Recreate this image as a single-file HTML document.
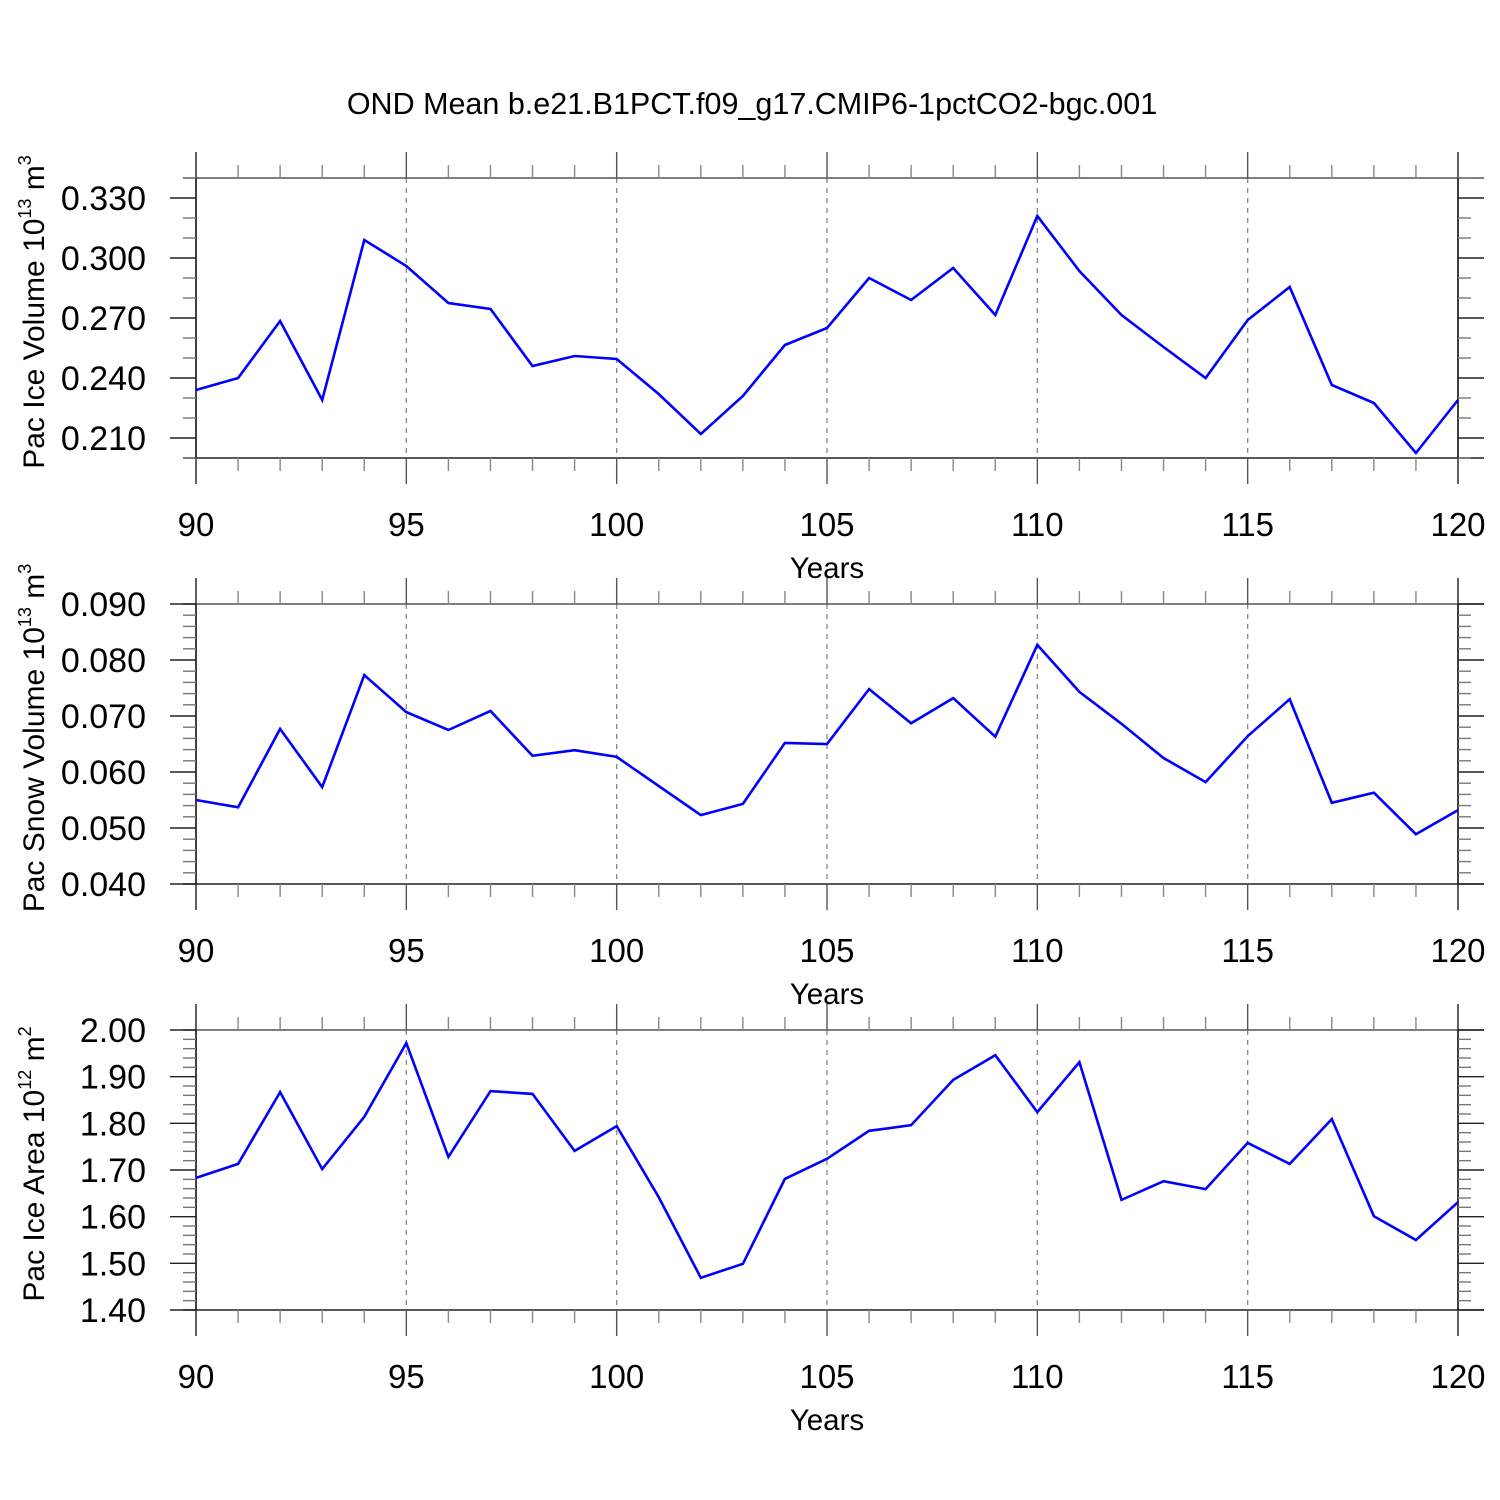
<!DOCTYPE html>
<html><head><meta charset="utf-8"><style>
body{margin:0;background:#fff}
svg{display:block;font-family:"Liberation Sans",sans-serif}
</style></head><body>
<svg id="chart" width="1500" height="1500" xmlns="http://www.w3.org/2000/svg">
<text x="752" y="114" font-size="30.5" text-anchor="middle">OND Mean b.e21.B1PCT.f09_g17.CMIP6-1pctCO2-bgc.001</text>
</svg>
<script>
const years=[90,91,92,93,94,95,96,97,98,99,100,101,102,103,104,105,106,107,108,109,110,111,112,113,114,115,116,117,118,119,120];
const iceVolume=[0.234,0.240,0.2685,0.229,0.309,0.296,0.2775,0.2745,0.246,0.251,0.2495,0.232,0.212,0.231,0.2565,0.265,0.290,0.279,0.295,0.2715,0.321,0.2935,0.2715,0.2555,0.240,0.269,0.2855,0.2365,0.2275,0.2025,0.229];
const snowVolume=[0.055,0.0537,0.0677,0.0573,0.0773,0.0707,0.0675,0.0709,0.0629,0.0639,0.0627,0.0575,0.0523,0.0543,0.0652,0.065,0.0748,0.0687,0.0732,0.0663,0.0827,0.0743,0.0686,0.0625,0.0582,0.0664,0.073,0.0545,0.0563,0.0489,0.0532];
const iceArea=[1.683,1.713,1.867,1.702,1.814,1.972,1.728,1.869,1.863,1.741,1.794,1.642,1.469,1.499,1.681,1.724,1.784,1.796,1.893,1.946,1.824,1.931,1.636,1.676,1.659,1.758,1.713,1.809,1.601,1.550,1.631];
const xTicks=[90,95,100,105,110,115,120];
const iceVolTicks=["0.210","0.240","0.270","0.300","0.330"];
const snowVolTicks=["0.040","0.050","0.060","0.070","0.080","0.090"];
const areaTicks=["1.40","1.50","1.60","1.70","1.80","1.90","2.00"];

const svg=document.getElementById('chart');
const NS='http://www.w3.org/2000/svg';
function mk(tag,attrs,parent){const e=document.createElementNS(NS,tag);for(const k in attrs)e.setAttribute(k,attrs[k]);(parent||svg).appendChild(e);return e;}
const X0=196,X1=1458,H=280;
const panels=[
 {name:'ice-volume',top:178,ymin:0.2,ymax:0.34,minor:0.01,ticks:iceVolTicks,data:iceVolume,title:'Pac Ice Volume 10',exp:'13',unit:' m',uexp:'3'},
 {name:'snow-volume',top:604,ymin:0.04,ymax:0.09,minor:0.002,ticks:snowVolTicks,data:snowVolume,title:'Pac Snow Volume 10',exp:'13',unit:' m',uexp:'3'},
 {name:'ice-area',top:1030,ymin:1.4,ymax:2.0,minor:0.02,ticks:areaTicks,data:iceArea,title:'Pac Ice Area 10',exp:'12',unit:' m',uexp:'2'}
];
panels.forEach(p=>{
 const g=mk('g',{});
 
 
 const xs=v=>X0+(v-90)/30*(X1-X0);
 const ys=v=>p.top+(p.ymax-v)/(p.ymax-p.ymin)*H;
 const bot=p.top+H;
 [95,100,105,110,115].forEach(v=>{const l=mk('line',{x1:xs(v),x2:xs(v),y1:p.top,y2:bot,stroke:'#888','stroke-width':1.3,'stroke-dasharray':'5,5'},g);});
 mk('line',{x1:X0-13,x2:X1+26,y1:p.top,y2:p.top,stroke:'#555','stroke-width':1.5},g);
 mk('line',{x1:X0-13,x2:X1+26,y1:bot,y2:bot,stroke:'#222','stroke-width':1.5},g);
 mk('line',{x1:X0,x2:X0,y1:p.top-26,y2:bot+26,stroke:'#000','stroke-width':1.5},g);
 mk('line',{x1:X1,x2:X1,y1:p.top-26,y2:bot+26,stroke:'#000','stroke-width':1.5},g);
 for(let v=90;v<=120;v++){const maj=v%5===0;const L=maj?26:13;const c=maj?'#555':'#888';
  mk('line',{x1:xs(v),x2:xs(v),y1:p.top,y2:p.top-L,stroke:c,'stroke-width':1.4},g);
  mk('line',{x1:xs(v),x2:xs(v),y1:bot,y2:bot+L,stroke:c,'stroke-width':1.4},g);}
 xTicks.forEach(v=>{const t=mk('text',{x:xs(v),y:bot+78,'font-size':33,'text-anchor':'middle'},g);t.textContent=v;});
 const xt=mk('text',{x:827,y:bot+120,'font-size':29.5,'text-anchor':'middle'},g);xt.textContent='Years';
 
 const n=Math.round((p.ymax-p.ymin)/p.minor);
 const tickVals=p.ticks.map(Number);
 for(let i=0;i<=n;i++){const v=p.ymin+i*p.minor;const maj=tickVals.some(t=>Math.abs(t-v)<p.minor/10);const L=maj?26:13;const c=maj?'#222':'#777';const y=ys(v);
  mk('line',{x1:X0,x2:X0-L,y1:y,y2:y,stroke:c,'stroke-width':1.4},g);
  mk('line',{x1:X1,x2:X1+L,y1:y,y2:y,stroke:c,'stroke-width':1.4},g);}
 p.ticks.forEach(s=>{const t=mk('text',{x:146,y:ys(Number(s))+12,'font-size':34,'text-anchor':'end'},g);t.textContent=s;});
 const yt=mk('text',{x:0,y:0,'font-size':30,'text-anchor':'middle',transform:`translate(44,${p.top+H/2-6}) rotate(-90)`},g);
 
 const t1=mk('tspan',{},yt);t1.textContent=p.title;
 const t2=mk('tspan',{dy:-13,'font-size':18},yt);t2.textContent=p.exp;
 const t3=mk('tspan',{dy:13},yt);t3.textContent=p.unit;
 const t4=mk('tspan',{dy:-13,'font-size':18},yt);t4.textContent=p.uexp;
 const pts=p.data.map((v,i)=>xs(years[i]).toFixed(1)+','+ys(v).toFixed(1)).join(' ');
 const pl=mk('polyline',{points:pts,fill:'none',stroke:'#0000ff','stroke-width':2.6,'stroke-linejoin':'miter'},g);
 
});
</script>
</body></html>
